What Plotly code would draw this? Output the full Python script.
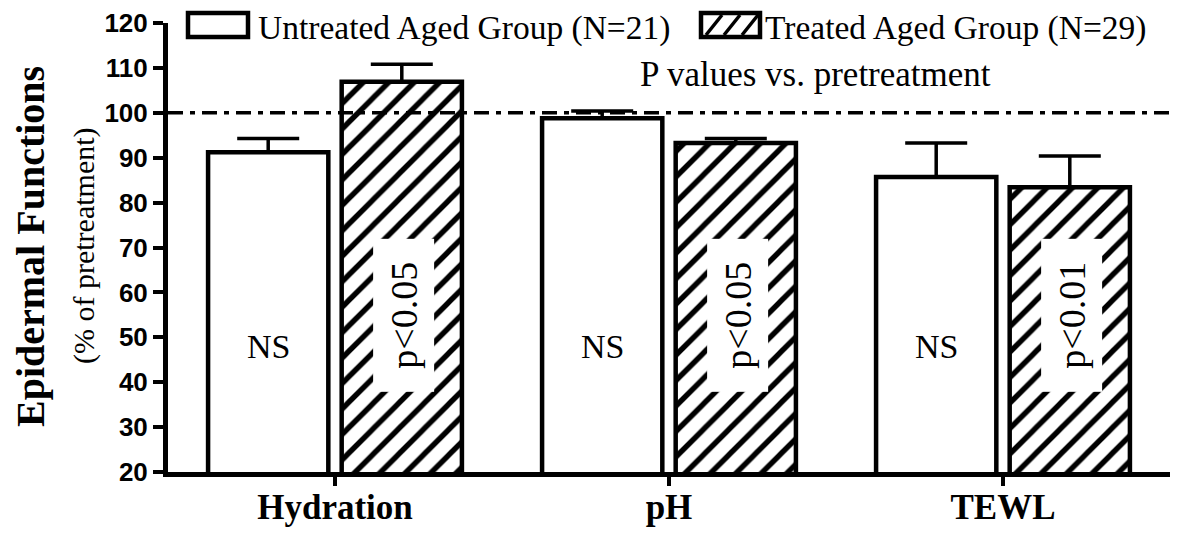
import plotly.graph_objects as go

# ---- data ----
categories = ["Hydration", "pH", "TEWL"]
untreated_values = [91.2, 98.8, 85.7]
untreated_err = [3.1, 1.6, 7.6]
treated_values = [106.9, 93.3, 83.4]
treated_err = [3.9, 1.0, 7.0]
untreated_labels = ["NS", "NS", "NS"]
treated_labels = ["p<0.05", "p<0.05", "p<0.01"]
legend_names = ["Untreated Aged Group (N=21)", "Treated Aged Group (N=29)"]
y_ticks = [20, 30, 40, 50, 60, 70, 80, 90, 100, 110, 120]
reference_level = 100

# page body has an 8px margin; size the figure so it fits the window
OFF = 8
W, H = 1178 - 2 * OFF, 535 - 2 * OFF
L, R, T, B = 168 - OFF, 0, 23 - OFF, (535 - OFF) - 472
PW, PH = W - L - R, H - T - B

def px_x(px):
    return (px - OFF - L) / PW

def px_y(py):
    return (H - B - (py - OFF)) / PH

SERIF = "Liberation Serif"
SANS = "Liberation Sans"

fig = go.Figure()
fig.add_trace(go.Bar(
    x=categories, y=untreated_values, name=legend_names[0],
    offset=-0.38, width=0.36,
    marker=dict(color="white", line=dict(color="black", width=4.5)),
    error_y=dict(type="data", symmetric=False, array=untreated_err,
                 arrayminus=[0] * len(untreated_err),
                 color="black", thickness=3.5, width=31),
    showlegend=False,
))
fig.add_trace(go.Bar(
    x=categories, y=treated_values, name=legend_names[1],
    offset=0.02, width=0.36,
    marker=dict(color="white", line=dict(color="black", width=4.5),
                pattern=dict(shape="/", fgcolor="black", bgcolor="white",
                             fgopacity=1, size=18, solidity=0.3)),
    error_y=dict(type="data", symmetric=False, array=treated_err,
                 arrayminus=[0] * len(treated_err),
                 color="black", thickness=3.5, width=31),
    showlegend=False,
))

annotations = []
for i, cat in enumerate(categories):
    annotations.append(dict(
        x=i - 0.2, y=48, xref="x", yref="y", text=untreated_labels[i],
        xanchor="center", yanchor="middle",
        showarrow=False, font=dict(family=SERIF, size=34, color="black")))
    annotations.append(dict(
        x=i + 0.205, y=55, xref="x", yref="y", text=treated_labels[i],
        xanchor="center", yanchor="middle",
        showarrow=False, textangle=-90, bgcolor="white", borderpad=0,
        width=152, height=60,
        font=dict(family=SERIF, size=38, color="black")))

def paper_note(px, py, text, size, angle=0, anchor="center"):
    return dict(x=px_x(px), y=px_y(py), xref="paper", yref="paper",
                xanchor=anchor, yanchor="middle", text=text, showarrow=False,
                textangle=angle, font=dict(family=SERIF, size=size, color="black"))

annotations.append(paper_note(815, 74, "P values vs. pretreatment", 35))
annotations.append(paper_note(30, 247, "<b>Epidermal Functions</b>", 40, angle=-90))
annotations.append(paper_note(84, 246, "(% of pretreatment)", 30, angle=-90))
annotations.append(paper_note(256, 28, legend_names[0], 33.5, anchor="left"))
annotations.append(paper_note(763, 28, legend_names[1], 33.5, anchor="left"))

shapes = []
# reference line at 100%
shapes.append(dict(type="line", xref="paper", yref="y", x0=0, x1=1,
                   y0=reference_level, y1=reference_level,
                   line=dict(color="black", width=3.5, dash="15px,7px,5px,7px")))
# legend boxes
for x0, x1 in [(188, 248), (701, 760)]:
    shapes.append(dict(type="rect", xref="paper", yref="paper",
                       x0=px_x(x0), x1=px_x(x1), y0=px_y(37), y1=px_y(13),
                       line=dict(color="black", width=4.5), fillcolor="white"))
# hatch in treated legend box
for sx in [706, 724, 742]:
    shapes.append(dict(type="line", xref="paper", yref="paper",
                       x0=px_x(sx), x1=px_x(sx + 16), y0=px_y(35), y1=px_y(15),
                       line=dict(color="black", width=3.5)))

fig.update_layout(
    width=W, height=H,
    margin=dict(l=L, r=R, t=T, b=B, autoexpand=False),
    paper_bgcolor="white", plot_bgcolor="white",
    barmode="group",
    annotations=annotations, shapes=shapes,
    xaxis=dict(
        range=[-0.5, 2.5], tickmode="array", tickvals=categories,
        ticktext=["<b>%s</b>" % c for c in categories],
        tickfont=dict(family=SERIF, size=35, color="black"),
        ticklabelstandoff=-9, ticklabeloverflow="allow",
        showline=True, linecolor="black", linewidth=5,
        ticks="outside", ticklen=9, tickwidth=4, tickcolor="black",
        showgrid=False, zeroline=False, automargin=False,
    ),
    yaxis=dict(
        range=[20, 120], tickmode="array", tickvals=y_ticks,
        ticktext=["<b>%d</b>" % v for v in y_ticks],
        tickfont=dict(family=SANS, size=26, color="black"),
        ticklabeloverflow="allow",
        showline=True, linecolor="black", linewidth=5,
        ticks="outside", ticklen=10, tickwidth=4, tickcolor="black",
        showgrid=False, zeroline=False, automargin=False,
    ),
)

fig.write_html("out.html")
